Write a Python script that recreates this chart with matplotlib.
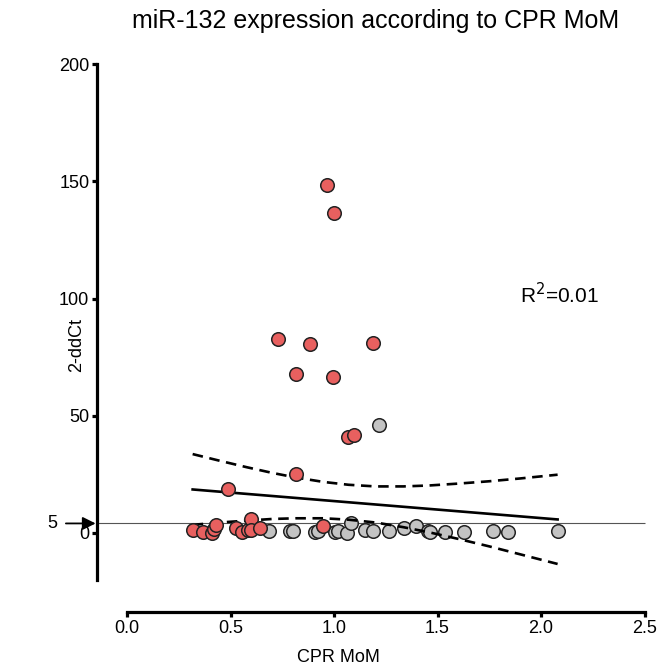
import matplotlib
matplotlib.use("Agg")
import matplotlib.pyplot as plt
import numpy as np

plt.rcParams["font.family"] = ["Liberation Sans", "DejaVu Sans"]

# red group (x = CPR MoM, y = 2-ddCt)
red_x = [0.967, 1.001, 0.728, 0.886, 1.187, 0.815, 0.994, 1.066, 1.097, 0.815, 0.489,
         0.32, 0.369, 0.412, 0.42, 0.43, 0.525, 0.556, 0.585, 0.60, 0.60, 0.643, 0.949]
red_y = [148.3, 136.6, 82.7, 80.7, 80.8, 67.7, 66.3, 41.1, 41.6, 24.9, 18.5,
         1.3, 0.4, 0.1, 1.5, 3.2, 1.9, 0.2, 1.0, 6.0, 1.2, 1.9, 2.9]

# grey group
grey_x = [1.219, 0.688, 0.787, 0.80, 0.908, 0.924, 1.005, 1.02, 1.061, 1.08, 1.15,
          1.19, 1.266, 1.338, 1.398, 1.456, 1.464, 1.536, 1.628, 1.767, 1.842, 2.08]
grey_y = [46.1, 0.9, 0.9, 0.9, 0.5, 0.8, 0.5, 0.7, 0.0, 4.0, 1.2,
          0.6, 0.8, 2.0, 2.9, 0.8, 0.2, 0.5, 0.5, 0.7, 0.5, 0.7]

# regression line and 95% band
fit_x = [0.317, 2.08]
fit_y = [18.5, 5.7]
band_x = [0.317, 0.45, 0.578, 0.7, 0.815, 0.95, 1.07, 1.2, 1.335, 1.46, 1.6, 1.75, 1.9, 2.08]
band_hi = [33.6, 30.7, 28.0, 25.6, 23.6, 21.7, 20.5, 19.8, 19.8, 20.2, 21.0, 22.0, 23.2, 24.8]
band_lo = [3.4, 4.4, 5.2, 5.9, 6.2, 6.2, 5.6, 4.4, 2.4, 0.2, -2.6, -5.8, -9.2, -13.3]

ref_level = 4
x_ticks = [0.0, 0.5, 1.0, 1.5, 2.0, 2.5]
y_ticks = [0, 50, 100, 150, 200]

fig = plt.figure(figsize=(6.7, 6.69), dpi=100)
ax = fig.add_axes([97 / 670, 57 / 669, 551.7 / 670, 547.8 / 669])
ax.set_xlim(-0.145, 2.52)
ax.set_ylim(-33.8, 200)

ax.hlines(ref_level, -0.145, x_ticks[-1], color="#555555", lw=0.8, zorder=1)

ax.scatter(grey_x, grey_y, s=95, c="#c3c3c3", edgecolors="#222222", linewidths=1.1, zorder=2)
ax.plot(fit_x, fit_y, color="black", lw=1.9, zorder=3)
ax.plot(band_x, band_hi, color="black", lw=1.9, ls=(0, (4, 2.5)), zorder=3)
ax.plot(band_x, band_lo, color="black", lw=1.9, ls=(0, (4, 2.5)), zorder=3)
ax.scatter(red_x, red_y, s=95, c="#e8605f", edgecolors="#222222", linewidths=1.1, zorder=4)

for side in ["top", "right"]:
    ax.spines[side].set_visible(False)
for side in ["left", "bottom"]:
    ax.spines[side].set_linewidth(2.3)
ax.spines["left"].set_bounds(-20, 200)
ax.spines["bottom"].set_bounds(0, 2.5)

ax.set_xticks(x_ticks, labels=[f"{v:.1f}" for v in x_ticks])
ax.set_yticks(y_ticks)
ax.tick_params(width=2.3, length=3.5, labelsize=13, pad=2)

ax.annotate("5", xy=(-0.145, ref_level), xytext=(-32, 0), textcoords="offset points",
            fontsize=13, ha="center", va="center", annotation_clip=False,
            arrowprops=dict(arrowstyle="-|>,head_length=0.6,head_width=0.3",
                            color="black", lw=1.3, shrinkA=4, shrinkB=1))

ax.text(1.9, 101.5, "R$^2$=0.01", fontsize=15, va="center", ha="left")

fig.text(376 / 670, 1 - 21 / 669, "miR-132 expression according to CPR MoM",
         fontsize=18, ha="center", va="center")
fig.text(77 / 670, 1 - 345 / 669, "2-ddCt", fontsize=13, rotation=90,
         ha="center", va="center")
fig.text(338 / 670, 1 - 657 / 669, "CPR MoM", fontsize=13, ha="center", va="center")

fig.savefig("out.png", dpi=100)
